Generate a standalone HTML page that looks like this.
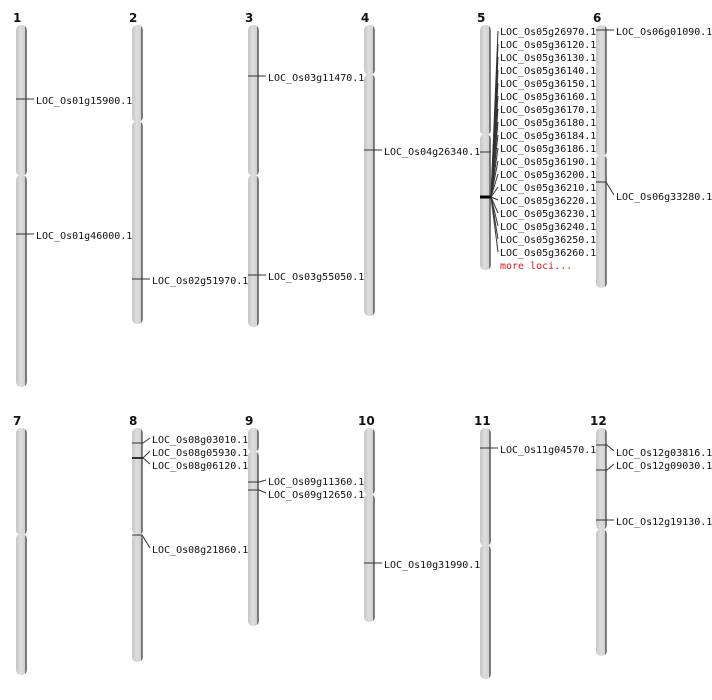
<!DOCTYPE html>
<html><head><meta charset="utf-8"><style>
html,body{margin:0;padding:0;background:#fff;}
svg{display:block}
text{font-family:"DejaVu Sans Mono","Liberation Mono",monospace;font-size:10px;fill:#111}
.n{font-family:"DejaVu Sans","Liberation Sans",sans-serif;font-weight:bold;font-size:12px}
.ch{fill:url(#g)}
line{stroke:#333;stroke-width:1}
</style></head><body>
<svg width="712" height="700" viewBox="0 0 712 700" xmlns="http://www.w3.org/2000/svg">
<defs><linearGradient id="g" x1="0" x2="1" y1="0" y2="0">
<stop offset="0" stop-color="#c6c6c6"/><stop offset="0.45" stop-color="#dedede"/><stop offset="0.8" stop-color="#d0d0d0"/><stop offset="0.85" stop-color="#6a6a6a"/><stop offset="1" stop-color="#888"/></linearGradient></defs>

<text class="n" x="13" y="22">1</text><text class="n" x="129" y="22">2</text><text class="n" x="245" y="22">3</text><text class="n" x="361" y="22">4</text><text class="n" x="477" y="22">5</text><text class="n" x="593" y="22">6</text>
<text class="n" x="13" y="425">7</text><text class="n" x="129" y="425">8</text><text class="n" x="245" y="425">9</text><text class="n" x="358" y="425">10</text><text class="n" x="474" y="425">11</text><text class="n" x="590" y="425">12</text>

<!-- chromosomes -->
<rect class="ch" x="16" y="25" width="11" height="151" rx="5"/><rect class="ch" x="16" y="175" width="11" height="212" rx="5"/>
<rect class="ch" x="132" y="25" width="11" height="97" rx="5"/><rect class="ch" x="132" y="121" width="11" height="203" rx="5"/>
<rect class="ch" x="248" y="25" width="11" height="151" rx="5"/><rect class="ch" x="248" y="175" width="11" height="152" rx="5"/>
<rect class="ch" x="364" y="25" width="11" height="50" rx="5"/><rect class="ch" x="364" y="74" width="11" height="242" rx="5"/>
<rect class="ch" x="480" y="25" width="11" height="110" rx="5"/><rect class="ch" x="480" y="134" width="11" height="136" rx="5"/>
<rect class="ch" x="596" y="25" width="11" height="131" rx="5"/><rect class="ch" x="596" y="155" width="11" height="133" rx="5"/>
<rect class="ch" x="16" y="428" width="11" height="107" rx="5"/><rect class="ch" x="16" y="534" width="11" height="141" rx="5"/>
<rect class="ch" x="132" y="428" width="11" height="107" rx="5"/><rect class="ch" x="132" y="534" width="11" height="128" rx="5"/>
<rect class="ch" x="248" y="428" width="11" height="24" rx="5"/><rect class="ch" x="248" y="451" width="11" height="175" rx="5"/>
<rect class="ch" x="364" y="428" width="11" height="67" rx="5"/><rect class="ch" x="364" y="494" width="11" height="128" rx="5"/>
<rect class="ch" x="480" y="428" width="11" height="118" rx="5"/><rect class="ch" x="480" y="545" width="11" height="134" rx="5"/>
<rect class="ch" x="596" y="428" width="11" height="102" rx="5"/><rect class="ch" x="596" y="529" width="11" height="127" rx="5"/>

<!-- chr1 -->
<line x1="16" y1="99" x2="34" y2="99"/><text x="36" y="104">LOC_Os01g15900.1</text>
<line x1="16" y1="234" x2="34" y2="234"/><text x="36" y="239">LOC_Os01g46000.1</text>
<!-- chr2 -->
<line x1="132" y1="279" x2="150" y2="279"/><text x="152" y="284">LOC_Os02g51970.1</text>
<!-- chr3 -->
<line x1="248" y1="76" x2="266" y2="76"/><text x="268" y="81">LOC_Os03g11470.1</text>
<line x1="248" y1="275" x2="266" y2="275"/><text x="268" y="280">LOC_Os03g55050.1</text>
<!-- chr4 -->
<line x1="364" y1="150" x2="382" y2="150"/><text x="384" y="155">LOC_Os04g26340.1</text>
<!-- chr5 -->
<line x1="480" y1="152" x2="491" y2="152"/>
<line x1="480" y1="197" x2="491" y2="197" style="stroke:#000;stroke-width:3"/>
<g style="stroke:#111">
<line x1="491" y1="197" x2="498" y2="31"/><line x1="491" y1="197" x2="498" y2="44"/><line x1="491" y1="197" x2="498" y2="57"/><line x1="491" y1="197" x2="498" y2="70"/><line x1="491" y1="197" x2="498" y2="83"/><line x1="491" y1="197" x2="498" y2="96"/><line x1="491" y1="197" x2="498" y2="109"/><line x1="491" y1="197" x2="498" y2="122"/><line x1="491" y1="197" x2="498" y2="135"/><line x1="491" y1="197" x2="498" y2="148"/><line x1="491" y1="197" x2="498" y2="161"/><line x1="491" y1="197" x2="498" y2="174"/><line x1="491" y1="197" x2="498" y2="187"/><line x1="491" y1="197" x2="498" y2="200"/><line x1="491" y1="197" x2="498" y2="213"/><line x1="491" y1="197" x2="498" y2="226"/><line x1="491" y1="197" x2="498" y2="239"/><line x1="491" y1="197" x2="498" y2="252"/>
</g>
<text x="500" y="35">LOC_Os05g26970.1</text><text x="500" y="48">LOC_Os05g36120.1</text><text x="500" y="61">LOC_Os05g36130.1</text><text x="500" y="74">LOC_Os05g36140.1</text><text x="500" y="87">LOC_Os05g36150.1</text><text x="500" y="100">LOC_Os05g36160.1</text><text x="500" y="113">LOC_Os05g36170.1</text><text x="500" y="126">LOC_Os05g36180.1</text><text x="500" y="139">LOC_Os05g36184.1</text><text x="500" y="152">LOC_Os05g36186.1</text><text x="500" y="165">LOC_Os05g36190.1</text><text x="500" y="178">LOC_Os05g36200.1</text><text x="500" y="191">LOC_Os05g36210.1</text><text x="500" y="204">LOC_Os05g36220.1</text><text x="500" y="217">LOC_Os05g36230.1</text><text x="500" y="230">LOC_Os05g36240.1</text><text x="500" y="243">LOC_Os05g36250.1</text><text x="500" y="256">LOC_Os05g36260.1</text>
<text x="500" y="269" style="fill:#d02020">more loci...</text>
<!-- chr6 -->
<line x1="596" y1="30" x2="614" y2="30"/><text x="616" y="35">LOC_Os06g01090.1</text>
<polyline points="596,182 606,182 614,195" fill="none" stroke="#333"/><text x="616" y="200">LOC_Os06g33280.1</text>
<!-- chr8 -->
<polyline points="132,443 143,443 150,438" fill="none" stroke="#333"/><text x="152" y="443">LOC_Os08g03010.1</text>
<line x1="132" y1="458" x2="143" y2="458" style="stroke-width:2"/>
<polyline points="143,458 150,451" fill="none" stroke="#333"/><text x="152" y="456">LOC_Os08g05930.1</text>
<polyline points="143,458 150,464" fill="none" stroke="#333"/><text x="152" y="469">LOC_Os08g06120.1</text>
<polyline points="132,535 142,535 150,548" fill="none" stroke="#333"/><text x="152" y="553">LOC_Os08g21860.1</text>
<!-- chr9 -->
<polyline points="248,482 259,482 266,480" fill="none" stroke="#333"/><text x="268" y="485">LOC_Os09g11360.1</text>
<polyline points="248,490 259,490 266,493" fill="none" stroke="#333"/><text x="268" y="498">LOC_Os09g12650.1</text>
<!-- chr10 -->
<line x1="364" y1="563" x2="382" y2="563"/><text x="384" y="568">LOC_Os10g31990.1</text>
<!-- chr11 -->
<line x1="480" y1="448" x2="498" y2="448"/><text x="500" y="453">LOC_Os11g04570.1</text>
<!-- chr12 -->
<polyline points="596,445 607,445 614,451" fill="none" stroke="#333"/><text x="616" y="456">LOC_Os12g03816.1</text>
<polyline points="596,470 607,470 614,464" fill="none" stroke="#333"/><text x="616" y="469">LOC_Os12g09030.1</text>
<line x1="596" y1="520" x2="614" y2="520"/><text x="616" y="525">LOC_Os12g19130.1</text>
</svg>
</body></html>
